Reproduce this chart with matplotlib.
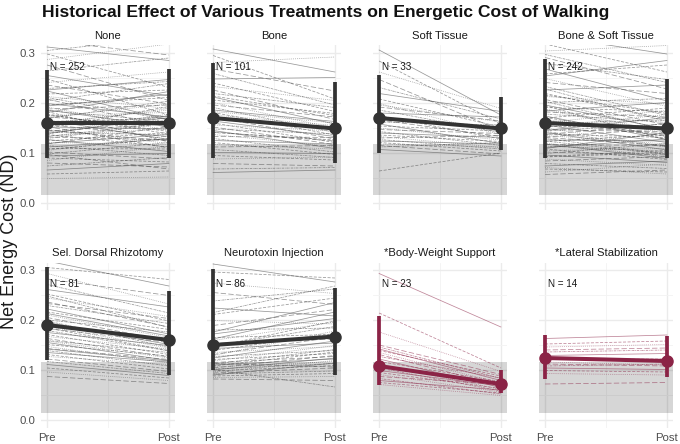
import matplotlib.pyplot as plt
import numpy as np

plt.rcParams['font.family'] = ['Liberation Sans', 'DejaVu Sans']

panels = ['None', 'Bone', 'Soft Tissue', 'Bone & Soft Tissue',
          'Sel. Dorsal Rhizotomy', 'Neurotoxin Injection',
          '*Body-Weight Support', '*Lateral Stabilization']
n_subjects = [252, 101, 33, 242, 81, 86, 23, 14]
highlight = [False, False, False, False, False, False, True, True]

# group means (pre, post) and the whisker ends
mean_pre = [0.160, 0.170, 0.170, 0.160, 0.190, 0.150, 0.108, 0.124]
mean_post = [0.160, 0.149, 0.149, 0.149, 0.160, 0.167, 0.072, 0.118]
low_pre = [0.090, 0.090, 0.100, 0.090, 0.120, 0.100, 0.071, 0.082]
high_pre = [0.265, 0.279, 0.255, 0.288, 0.307, 0.302, 0.208, 0.170]
low_post = [0.090, 0.080, 0.105, 0.090, 0.090, 0.090, 0.055, 0.087]
high_post = [0.268, 0.241, 0.212, 0.248, 0.258, 0.265, 0.100, 0.169]

# normal range band
band_low, band_high = 0.015, 0.117

# individual subjects
none_pre = [0.312, 0.298, 0.287, 0.276, 0.264, 0.255, 0.248, 0.241, 0.236, 0.229, 0.224, 0.218, 0.213,
            0.208, 0.204, 0.199, 0.196, 0.192, 0.188, 0.185, 0.181, 0.178, 0.175, 0.172, 0.169, 0.166,
            0.163, 0.160, 0.157, 0.155, 0.152, 0.149, 0.147, 0.144, 0.142, 0.139, 0.137, 0.134, 0.132,
            0.129, 0.127, 0.124, 0.121, 0.118, 0.115, 0.112, 0.109, 0.105, 0.102, 0.098, 0.094, 0.090,
            0.085, 0.080, 0.074, 0.066, 0.058, 0.049, 0.325, 0.305, 0.226, 0.183, 0.141, 0.097,
            0.211, 0.194, 0.176, 0.158, 0.146, 0.133, 0.119, 0.107, 0.171, 0.153, 0.138, 0.186]
none_post = [0.285, 0.231, 0.318, 0.205, 0.290, 0.214, 0.176, 0.262, 0.198, 0.243, 0.167, 0.226, 0.189,
             0.151, 0.239, 0.172, 0.211, 0.145, 0.196, 0.163, 0.223, 0.138, 0.181, 0.155, 0.204, 0.127,
             0.169, 0.186, 0.132, 0.174, 0.148, 0.193, 0.119, 0.158, 0.136, 0.171, 0.112, 0.149, 0.126,
             0.160, 0.103, 0.141, 0.117, 0.153, 0.095, 0.128, 0.108, 0.134, 0.088, 0.121, 0.099, 0.082,
             0.114, 0.072, 0.091, 0.079, 0.064, 0.052, 0.296, 0.331, 0.247, 0.122, 0.178, 0.068,
             0.166, 0.217, 0.143, 0.189, 0.124, 0.161, 0.137, 0.129, 0.198, 0.110, 0.175, 0.152]

bone_pre = [0.308, 0.295, 0.281, 0.268, 0.259, 0.248, 0.240, 0.233, 0.226, 0.219, 0.212, 0.206, 0.201,
            0.196, 0.191, 0.186, 0.181, 0.176, 0.172, 0.168, 0.164, 0.160, 0.156, 0.152, 0.148, 0.145,
            0.141, 0.137, 0.133, 0.129, 0.125, 0.121, 0.117, 0.112, 0.107, 0.101, 0.095, 0.088, 0.079,
            0.068, 0.061, 0.214, 0.183, 0.142]
bone_post = [0.262, 0.208, 0.292, 0.224, 0.196, 0.251, 0.183, 0.205, 0.167, 0.191, 0.158, 0.179, 0.150,
             0.172, 0.141, 0.163, 0.136, 0.155, 0.128, 0.147, 0.133, 0.121, 0.144, 0.117, 0.138, 0.109,
             0.126, 0.113, 0.131, 0.102, 0.118, 0.097, 0.108, 0.115, 0.091, 0.099, 0.086, 0.092, 0.074,
             0.071, 0.066, 0.175, 0.160, 0.124]

soft_pre = [0.306, 0.284, 0.262, 0.247, 0.231, 0.219, 0.208, 0.199, 0.192, 0.186, 0.180, 0.175, 0.170,
            0.166, 0.162, 0.158, 0.154, 0.150, 0.147, 0.143, 0.140, 0.136, 0.133, 0.130, 0.127, 0.124,
            0.121, 0.118, 0.115, 0.112, 0.107, 0.064, 0.196]
soft_post = [0.176, 0.158, 0.189, 0.145, 0.168, 0.183, 0.152, 0.137, 0.164, 0.141, 0.172, 0.128, 0.149,
             0.133, 0.156, 0.119, 0.144, 0.126, 0.139, 0.115, 0.131, 0.123, 0.111, 0.135, 0.108, 0.118,
             0.104, 0.112, 0.098, 0.121, 0.094, 0.100, 0.162]

bs_pre = [0.335, 0.318, 0.304, 0.291, 0.279, 0.268, 0.258, 0.249, 0.241, 0.233, 0.226, 0.219, 0.213,
          0.207, 0.201, 0.196, 0.191, 0.186, 0.182, 0.178, 0.174, 0.170, 0.166, 0.162, 0.159, 0.156,
          0.153, 0.150, 0.147, 0.144, 0.141, 0.138, 0.135, 0.132, 0.129, 0.126, 0.123, 0.120, 0.117,
          0.114, 0.111, 0.108, 0.105, 0.102, 0.099, 0.096, 0.092, 0.088, 0.084, 0.079, 0.074, 0.068,
          0.062, 0.322, 0.297, 0.254, 0.216, 0.188, 0.164, 0.143, 0.118, 0.093, 0.071, 0.057,
          0.203, 0.184, 0.171, 0.152, 0.137, 0.124, 0.109, 0.195, 0.161, 0.131, 0.228, 0.145]
bs_post = [0.298, 0.262, 0.315, 0.228, 0.247, 0.204, 0.276, 0.193, 0.219, 0.175, 0.236, 0.168, 0.198,
           0.156, 0.209, 0.148, 0.183, 0.139, 0.172, 0.161, 0.127, 0.190, 0.145, 0.134, 0.166, 0.121,
           0.152, 0.113, 0.142, 0.158, 0.106, 0.131, 0.118, 0.149, 0.098, 0.124, 0.137, 0.092, 0.115,
           0.103, 0.128, 0.087, 0.109, 0.096, 0.119, 0.081, 0.101, 0.075, 0.093, 0.069, 0.084, 0.062,
           0.078, 0.338, 0.241, 0.285, 0.179, 0.143, 0.137, 0.112, 0.089, 0.105, 0.058, 0.066,
           0.146, 0.201, 0.133, 0.177, 0.159, 0.097, 0.141, 0.126, 0.185, 0.115, 0.163, 0.171]

sdr_pre = [0.318, 0.305, 0.293, 0.282, 0.271, 0.261, 0.252, 0.244, 0.236, 0.229, 0.222, 0.216, 0.210,
           0.205, 0.200, 0.195, 0.191, 0.187, 0.183, 0.179, 0.175, 0.171, 0.167, 0.163, 0.159, 0.155,
           0.151, 0.147, 0.143, 0.139, 0.135, 0.131, 0.127, 0.122, 0.117, 0.111, 0.104, 0.096, 0.087,
           0.248, 0.213, 0.184, 0.158, 0.233, 0.198, 0.142]
sdr_post = [0.268, 0.281, 0.232, 0.249, 0.214, 0.226, 0.198, 0.207, 0.186, 0.193, 0.172, 0.181, 0.165,
            0.158, 0.176, 0.151, 0.162, 0.144, 0.155, 0.138, 0.149, 0.131, 0.142, 0.126, 0.135, 0.119,
            0.128, 0.114, 0.121, 0.108, 0.116, 0.102, 0.111, 0.097, 0.093, 0.089, 0.084, 0.079, 0.073,
            0.185, 0.168, 0.139, 0.124, 0.203, 0.146, 0.118]

neuro_pre = [0.312, 0.296, 0.274, 0.255, 0.238, 0.224, 0.211, 0.199, 0.189, 0.180, 0.172, 0.165, 0.159,
             0.153, 0.148, 0.143, 0.139, 0.135, 0.131, 0.127, 0.124, 0.121, 0.118, 0.115, 0.112, 0.110,
             0.108, 0.106, 0.104, 0.102, 0.100, 0.098, 0.096, 0.094, 0.092, 0.090, 0.088, 0.085, 0.082,
             0.215, 0.176, 0.146, 0.129, 0.113, 0.101, 0.162]
neuro_post = [0.276, 0.284, 0.253, 0.231, 0.262, 0.208, 0.244, 0.192, 0.221, 0.184, 0.203, 0.171, 0.196,
              0.162, 0.187, 0.154, 0.173, 0.147, 0.166, 0.139, 0.158, 0.133, 0.149, 0.127, 0.141, 0.122,
              0.136, 0.117, 0.129, 0.113, 0.124, 0.109, 0.119, 0.104, 0.098, 0.114, 0.093, 0.087, 0.079,
              0.268, 0.235, 0.198, 0.178, 0.106, 0.066, 0.216]

bws_pre = [0.293, 0.214, 0.176, 0.150, 0.146, 0.142, 0.139, 0.135, 0.131, 0.127, 0.122, 0.117,
           0.112, 0.108, 0.104, 0.099, 0.095, 0.091, 0.087, 0.083, 0.079, 0.075, 0.071]
bws_post = [0.186, 0.104, 0.097, 0.091, 0.083, 0.079, 0.088, 0.074, 0.069, 0.084, 0.065, 0.077,
            0.061, 0.072, 0.058, 0.068, 0.063, 0.056, 0.071, 0.052, 0.060, 0.054, 0.049]

lat_pre = [0.163, 0.152, 0.146, 0.140, 0.136, 0.129, 0.121, 0.116, 0.112, 0.108, 0.104, 0.099, 0.093, 0.072]
lat_post = [0.170, 0.158, 0.151, 0.144, 0.140, 0.133, 0.122, 0.110, 0.108, 0.112, 0.101, 0.096, 0.090, 0.075]

subjects_pre = [none_pre, bone_pre, soft_pre, bs_pre, sdr_pre, neuro_pre, bws_pre, lat_pre]
subjects_post = [none_post, bone_post, soft_post, bs_post, sdr_post, neuro_post, bws_post, lat_post]

x_labels = ['Pre', 'Post']

grey_main = '#333333'
red_main = '#8B2346'
styles = ['-', (0, (4, 2)), (0, (1, 1.5)), (0, (7, 3)), (0, (3, 1, 1, 1))]

W, H = 680, 444
fig = plt.figure(figsize=(W / 100, H / 100), dpi=100)

col_left = [41, 207, 373, 539]
row_top = [45.5, 262.5]
pw, ph = 134, 165

for i, name in enumerate(panels):
    r, c = divmod(i, 4)
    ax = fig.add_axes([col_left[c] / W, 1 - (row_top[r] + ph) / H, pw / W, ph / H])
    main = red_main if highlight[i] else grey_main
    thin = red_main if highlight[i] else '#444444'

    ax.set_xlim(0.95, 2.05)
    ax.set_ylim(-0.015, 0.315)
    ax.set_yticks([0.0, 0.1, 0.2, 0.3])
    ax.set_yticks([0.05, 0.15, 0.25], minor=True)
    ax.set_xticks([1, 2])
    ax.set_xticks([1.5], minor=True)
    ax.grid(True, which='major', color='#EBEBEB', lw=1.0)
    ax.grid(True, which='minor', color='#F3F3F3', lw=0.6)
    ax.set_axisbelow(True)
    for s in ax.spines.values():
        s.set_visible(False)
    ax.tick_params(which='both', length=0, labelsize=8.2, labelcolor='#4D4D4D', pad=4)
    if c == 0:
        ax.set_yticklabels(['0.0', '0.1', '0.2', '0.3'])
    else:
        ax.set_yticklabels([])
    if r == 1:
        ax.set_xticklabels(x_labels)
    else:
        ax.set_xticklabels([])

    ax.axhspan(band_low, band_high, xmin=0, xmax=1, color='#000000', alpha=0.16, lw=0, zorder=1)

    for j, (a, b) in enumerate(zip(subjects_pre[i], subjects_post[i])):
        ax.plot([1, 2], [a, b], color=thin, lw=0.55, alpha=0.55,
                ls=styles[j % len(styles)], zorder=2)

    ax.plot([1, 2], [mean_pre[i], mean_post[i]], color=main, lw=2.9, zorder=4,
            solid_capstyle='butt')
    ax.vlines([1, 2], [low_pre[i], low_post[i]], [high_pre[i], high_post[i]],
              color=main, lw=2.7, zorder=4)
    ax.plot([1, 2], [mean_pre[i], mean_post[i]], 'o', color=main, ms=8, zorder=5)

    ax.text(1.025, 0.272, f'N = {n_subjects[i]}', fontsize=7.1, color='#1a1a1a',
            ha='left', va='center', zorder=6)
    ax.set_title(name, fontsize=8.1, color='#1A1A1A', pad=5)

fig.text(42 / W, 1 - 13 / H, 'Historical Effect of Various Treatments on Energetic Cost of Walking',
         fontsize=12.6, fontweight='bold', ha='left', va='center', color='#111111')
fig.text(10 / W, 1 - 241 / H, 'Net Energy Cost (ND)', rotation=90, fontsize=13,
         ha='center', va='center', color='#1A1A1A')

fig.savefig('out.png', dpi=100)
